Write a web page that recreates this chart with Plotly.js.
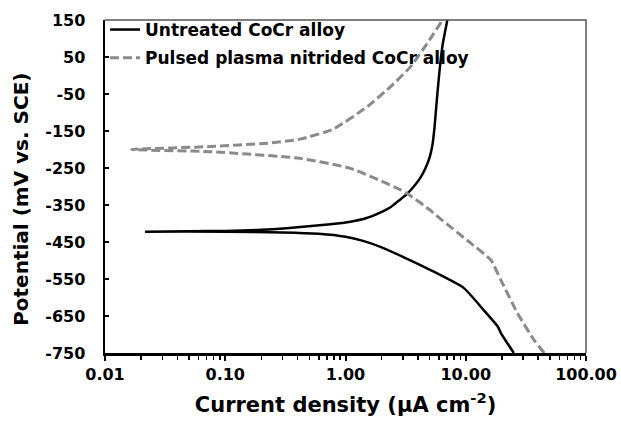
<!DOCTYPE html>
<html>
<head>
<meta charset="utf-8">
<script src="https://cdn.plot.ly/plotly-3.0.1.min.js"></script>
<style>html,body{margin:0;padding:0;background:#fff;}#chart{width:621px;height:421px;}</style>
</head>
<body>
<div id="chart"></div>
<script>
// Untreated CoCr alloy: cathodic branch (bottom) -> Ecorr -> anodic branch (top)
const untreatedCurrent = [25.1, 19.6, 18.5, 14.1, 9.6, 5.1, 3.0, 1.95, 1.4, 1.0, 0.6, 0.3, 0.1, 0.0215,
                          0.05, 0.1, 0.2, 0.4, 0.75, 1.1, 1.5, 1.92, 2.37, 2.75, 3.2, 3.7, 4.2, 4.6, 5.0, 5.27, 5.5, 5.7, 6.0, 6.4, 7.03];
const untreatedPotential = [-750, -696, -679, -634, -574, -526, -490, -463, -447, -436, -428, -424, -422, -422,
                            -421, -420, -417, -410, -402, -395, -385, -371, -356, -339, -322, -300, -276, -252, -222, -190, -140, -80, 0, 80, 150];
// Pulsed plasma nitrided CoCr alloy
const nitridedCurrent = [45, 37, 27, 19.6, 16.2, 11.0, 6.19, 5.1, 3.48, 2.87, 1.1, 0.42, 0.075, 0.0167,
                         0.075, 0.224, 0.42, 0.79, 1.52, 2.37, 3.48, 4.79, 6.4];
const nitridedPotential = [-750, -715, -643, -553, -499, -453, -388, -365, -325, -309, -251, -224, -206, -200,
                           -192, -183, -172, -145, -84, -30, 24, 87, 150];
const seriesNames = ['Untreated CoCr alloy', 'Pulsed plasma nitrided CoCr alloy'];
const xTickVals = [0.01, 0.1, 1, 10, 100];
const xTickText = ['0.01', '0.10', '1.00', '10.00', '100.00'];
const yTickVals = [150, 50, -50, -150, -250, -350, -450, -550, -650, -750];
const yTickText = ['150', '50', '-50', '-150', '-250', '-350', '-450', '-550', '-650', '-750'];
const yTitle = 'Potential (mV vs. SCE)';

const minorVals = [];
for (let d = -2; d < 2; d++) for (let k = 2; k <= 9; k++) minorVals.push(k * Math.pow(10, d));

const FONT = '"DejaVu Sans", Arial, sans-serif';
const traces = [
  {x: untreatedCurrent, y: untreatedPotential, name: seriesNames[0], mode: 'lines', legend: 'legend',
   line: {color: '#000000', width: 2.5, shape: 'spline', smoothing: 0.5}},
  {x: nitridedCurrent, y: nitridedPotential, name: seriesNames[1], mode: 'lines', legend: 'legend2',
   line: {color: '#8a8a8a', width: 3, dash: '9px,4px', shape: 'spline', smoothing: 0.5}}
];
const legendBase = {xanchor: 'left', yanchor: 'middle', bgcolor: 'rgba(0,0,0,0)', borderwidth: 0,
  font: {family: FONT, size: 17, color: '#000', weight: 'bold'}, itemclick: false};
const layout = {
  width: 621, height: 421,
  margin: {l: 105, r: 35, t: 20, b: 68},
  paper_bgcolor: '#fff', plot_bgcolor: '#fff',
  font: {family: FONT, color: '#000'},
  xaxis: {type: 'log', range: [-2, 2], tickmode: 'array', tickvals: xTickVals, ticktext: xTickText,
    ticks: 'outside', ticklen: 5, tickwidth: 2, tickcolor: '#000',
    minor: {tickmode: 'array', tickvals: minorVals, ticks: 'outside', ticklen: 4, tickwidth: 1.5, tickcolor: '#000', showgrid: false},
    showline: true, linecolor: '#000', linewidth: 2.5, showgrid: false, zeroline: false,
    tickfont: {family: FONT, size: 16, color: '#000', weight: 'bold'},
    title: {text: 'Current density (μA cm<sup>-2</sup>)', font: {family: FONT, size: 21, color: '#000', weight: 'bold'}, standoff: 15}},
  yaxis: {range: [-750, 150], tickmode: 'array', tickvals: yTickVals, ticktext: yTickText,
    ticks: 'inside', ticklen: 4, tickwidth: 2, tickcolor: '#000', ticklabelstandoff: 14,
    showline: true, linecolor: '#000', linewidth: 2.5, showgrid: false, zeroline: false,
    tickfont: {family: FONT, size: 16, color: '#000', weight: 'bold'}},
  annotations: [{text: yTitle, xref: 'paper', yref: 'paper', x: -0.1746, y: 0.46, xanchor: 'center', yanchor: 'middle',
    textangle: -90, showarrow: false, font: {family: FONT, size: 20, color: '#000', weight: 'bold'}}],
  legend: Object.assign({x: 0, y: 0.97}, legendBase),
  legend2: Object.assign({x: 0, y: 0.885}, legendBase),
  shapes: [{type: 'path', xref: 'paper', yref: 'paper', path: 'M0,1 L1,1 L1,0', line: {color: '#555', width: 1.5}}],
  showlegend: true
};
Plotly.newPlot('chart', traces, layout, {staticPlot: true, displayModeBar: false});
</script>
</body>
</html>
